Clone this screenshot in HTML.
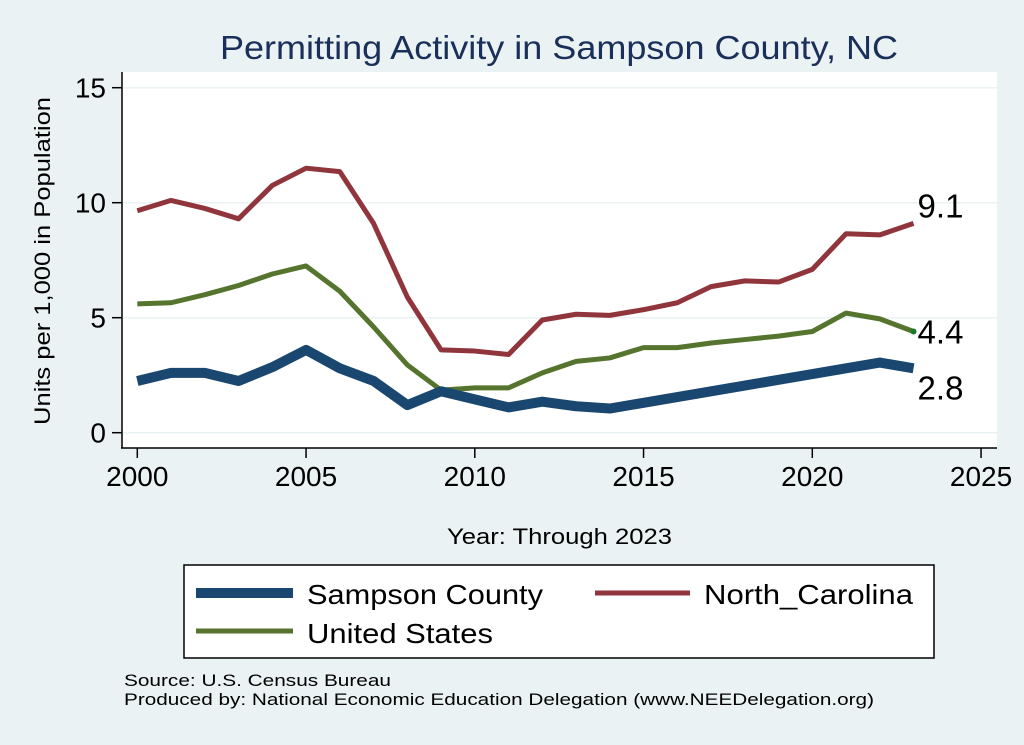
<!DOCTYPE html>
<html><head><meta charset="utf-8"><style>
body{margin:0;background:#eaf2f3;}
svg{display:block;font-family:"Liberation Sans",Arial,sans-serif;}
</style></head><body>
<svg width="1024" height="745" viewBox="0 0 1024 745">
<rect x="0" y="0" width="1024" height="745" fill="#eaf2f3"/>
<text x="220" y="59" font-size="33" fill="#1a2f5a" textLength="678" lengthAdjust="spacingAndGlyphs">Permitting Activity in Sampson County, NC</text>
<rect x="122" y="72" width="875" height="376" fill="#fff"/>
<g id="grid"></g>
<g id="axes"></g>
<g id="series"></g>
<text transform="translate(50,425) rotate(-90)" font-size="22" fill="#000" textLength="328" lengthAdjust="spacingAndGlyphs">Units per 1,000 in Population</text>
<text x="447" y="544" font-size="22" fill="#000" textLength="225" lengthAdjust="spacingAndGlyphs">Year: Through 2023</text>
<g>
<rect x="184" y="565" width="750" height="93" fill="#fff" stroke="#000" stroke-width="1.5"/>
<line x1="196" y1="593" x2="293" y2="593" stroke="#1a476f" stroke-width="10"/>
<text x="307" y="604" font-size="28" textLength="236" lengthAdjust="spacingAndGlyphs">Sampson County</text>
<line x1="595" y1="593" x2="690" y2="593" stroke="#90353b" stroke-width="5"/>
<text x="704" y="604" font-size="28" textLength="209" lengthAdjust="spacingAndGlyphs">North_Carolina</text>
<line x1="196" y1="631" x2="293" y2="631" stroke="#55752f" stroke-width="5"/>
<text x="307" y="643" font-size="28" textLength="186" lengthAdjust="spacingAndGlyphs">United States</text>
</g>
<text x="124" y="686" font-size="17" textLength="267" lengthAdjust="spacingAndGlyphs">Source: U.S. Census Bureau</text>
<text x="124" y="705" font-size="17" textLength="750" lengthAdjust="spacingAndGlyphs">Produced by: National Economic Education Delegation (www.NEEDelegation.org)</text>
</svg>
<script>
const years=[2000,2001,2002,2003,2004,2005,2006,2007,2008,2009,2010,2011,2012,2013,2014,2015,2016,2017,2018,2019,2020,2021,2022,2023];
const ncValues=[9.65,10.1,9.75,9.3,10.75,11.5,11.35,9.1,5.9,3.6,3.55,3.4,4.9,5.15,5.1,5.35,5.65,6.35,6.6,6.55,7.1,8.65,8.6,9.1];
const usValues=[5.6,5.65,6.0,6.4,6.9,7.25,6.15,4.6,2.95,1.85,1.95,1.95,2.6,3.1,3.25,3.7,3.7,3.9,4.05,4.2,4.4,5.2,4.95,4.4];
const sampsonValues=[2.25,2.6,2.6,2.25,2.85,3.6,2.8,2.25,1.2,1.8,1.45,1.1,1.35,1.15,1.05,1.3,1.55,1.8,2.05,2.3,2.55,2.8,3.05,2.8];
const xTicks=[2000,2005,2010,2015,2020,2025];
const yTicks=[0,5,10,15];
const NS='http://www.w3.org/2000/svg';
const xs=v=>137.3+(v-2000)*33.75;
const ys=v=>432.7-v*23;
function mk(t,a,p){const e=document.createElementNS(NS,t);for(const k in a)e.setAttribute(k,a[k]);p.appendChild(e);return e;}
const grid=document.getElementById('grid'),axes=document.getElementById('axes'),ser=document.getElementById('series');
yTicks.forEach(v=>{
 const g=mk('line',{x1:122,x2:997,y1:ys(v),y2:ys(v),stroke:'#eaf2f3','stroke-width':1.5},grid);
 
 
 const t=mk('line',{x1:112,x2:122,y1:ys(v),y2:ys(v),stroke:'#000','stroke-width':1.5},axes);
 
 
 const l=mk('text',{x:106,y:ys(v)+10,'font-size':28,'text-anchor':'end'},axes);l.textContent=v;
 
 
});
xTicks.forEach(v=>{
 const t=mk('line',{x1:xs(v),x2:xs(v),y1:448,y2:458,stroke:'#000','stroke-width':1.5},axes);
 
 
 const l=mk('text',{x:xs(v),y:486,'font-size':28,'text-anchor':'middle'},axes);l.textContent=v;
 
 
});
const ya=mk('line',{x1:122,x2:122,y1:72,y2:448,stroke:'#000','stroke-width':1.5},axes);


const xa=mk('line',{x1:121,x2:997,y1:448,y2:448,stroke:'#000','stroke-width':1.5},axes);


function line(vals,color,w,name){
 const p=mk('polyline',{points:vals.map((v,i)=>xs(years[i])+','+ys(v)).join(' '),fill:'none',stroke:color,'stroke-width':w,'stroke-linejoin':'round'},ser);
 
 
}
line(usValues,'#55752f',5,'us-line');
line(ncValues,'#90353b',5,'nc-line');
line(sampsonValues,'#1a476f',10,'sampson-line');
const last=years.length-1;
const dot=mk('circle',{cx:xs(years[last]),cy:ys(usValues[last]),r:3,fill:'#1a7a2a'},ser);


[[ncValues,-6,'nc-end-label'],[usValues,12,'us-end-label'],[sampsonValues,31,'sampson-end-label']].forEach(([vals,dy,name])=>{
 const t=mk('text',{x:xs(years[last])+4,y:ys(vals[last])+dy,'font-size':33},ser);
 t.textContent=vals[last].toFixed(1);
 
 
});
</script>
</body></html>
